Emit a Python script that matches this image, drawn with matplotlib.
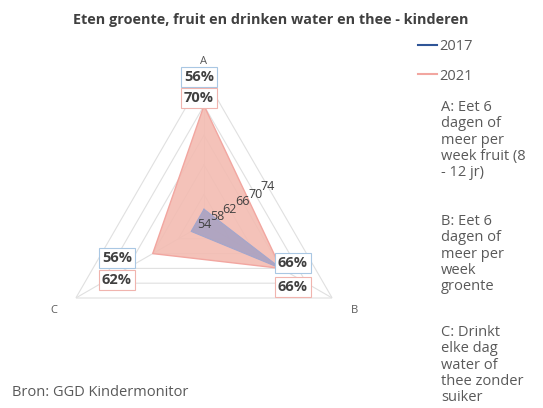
import numpy as np
import matplotlib
matplotlib.use("Agg")
import matplotlib.pyplot as plt

plt.rcParams['font.family'] = ['Open Sans', 'DejaVu Sans']

categories = ["A", "B", "C"]
years = ["2017", "2021"]
values_2017 = [56, 66, 56]
values_2021 = [70, 66, 62]
r_min, r_max, r_step = 54, 74, 4
title = "Eten groente, fruit en drinken water en thee - kinderen"
notes = ["A: Eet 6\ndagen of\nmeer per\nweek fruit (8\n- 12 jr)",
         "B: Eet 6\ndagen of\nmeer per\nweek\ngroente",
         "C: Drinkt\nelke dag\nwater of\nthee zonder\nsuiker"]
source = "Bron: GGD Kindermonitor"

W, H = 543, 408
fig = plt.figure(figsize=(W / 100, H / 100), dpi=100)

cx, cy, R = 204, 224, 148
ax = fig.add_axes([(cx - R) / W, (H - cy - R) / H, 2 * R / W, 2 * R / H], projection='polar')
ax.set_theta_offset(np.pi / 2)
ax.set_theta_direction(-1)
ax.set_ylim(r_min, r_max)
ax.set_axis_off()

n = len(categories)
theta = np.arange(n) * 2 * np.pi / n
theta_c = np.append(theta, theta[0])

# grid rings (triangles)
for v in np.arange(r_min + r_step, r_max + 0.1, r_step):
    ax.plot(theta_c, [v] * (n + 1), color='#e0e0e0', lw=0.8, zorder=1)
for t in theta:
    ax.plot([t, t], [r_min, r_max], color='#e0e0e0', lw=0.8, zorder=1)

col17_line, col17_fill = '#2f5597', '#9a9cc4'
col21_line, col21_fill = '#f2a6a0', '#f3bcb2'

v21 = np.append(values_2021, values_2021[0])
v17 = np.append(values_2017, values_2017[0])
ax.fill(theta_c, v21, color=col21_fill, alpha=0.9, zorder=2, lw=0)
l21, = ax.plot(theta_c, v21, color=col21_line, lw=1.0, zorder=3)
ax.fill(theta_c, v17, color=col17_fill, alpha=0.75, zorder=4, lw=0)
l17, = ax.plot(theta_c, v17, color='#a3a6cc', lw=0.8, zorder=5)

# tick labels along edge midpoint direction
for v in np.arange(r_min, r_max + 0.1, r_step):
    ax.text(np.pi / 3, r_min + (v - r_min) / 2, f"{int(v)}", fontsize=9,
            color='#404040', ha='center', va='center', zorder=6, clip_on=False)

# category labels
for t, c in zip(theta, categories):
    ax.text(t, 76.0 if c == "A" else 77.5, c, fontsize=8, color='#595959',
            ha='center', va='center', clip_on=False, zorder=1)

# data labels
lab_pos = {  # figure-pixel centres (x, y from top)
    0: [(199, 77), (199, 98)],
    1: [(293, 263), (293, 287)],
    2: [(117, 258), (117, 280)],
}
for i in range(n):
    for j, (vals, ec) in enumerate([(values_2017, '#a9c7e3'), (values_2021, '#f0b4ae')]):
        px, py = lab_pos[i][j]
        ax.annotate(f"{vals[i]}%", xy=(theta[i], vals[i]), xycoords='data',
                    xytext=(px / W, 1 - py / H), textcoords='figure fraction',
                    ha='center', va='center', fontsize=10.5, fontweight='bold', color='#404040',
                    bbox=dict(boxstyle='square,pad=0.2', fc='white', ec=ec, lw=0.8),
                    zorder=7, annotation_clip=False)

# title
fig.text(271 / W, 1 - 20 / H, title, ha='center', va='center', fontsize=10.4,
         fontweight='bold', color='#404040')

# legend
leg = fig.legend([l17, l21], years, loc='upper left', bbox_to_anchor=(418 / W, 1 - 39 / H),
                 frameon=False, handlelength=1.3, handletextpad=0.15, fontsize=10.5,
                 labelspacing=1.0, borderaxespad=0, borderpad=0)
for t in leg.get_texts():
    t.set_color('#595959')
leg.legend_handles[0].set_color(col17_line)
leg.legend_handles[0].set_linewidth(1.5)
leg.legend_handles[1].set_color(col21_line)
leg.legend_handles[1].set_linewidth(1.5)

# notes
note_y = [100, 214, 325]
for txt, y in zip(notes, note_y):
    fig.text(441 / W, 1 - y / H, txt, ha='left', va='top', fontsize=10.5,
             color='#595959', linespacing=1.12)

fig.text(12 / W, 1 - 392 / H, source, ha='left', va='center', fontsize=10.5, color='#595959')

fig.savefig("out.png", dpi=100)
